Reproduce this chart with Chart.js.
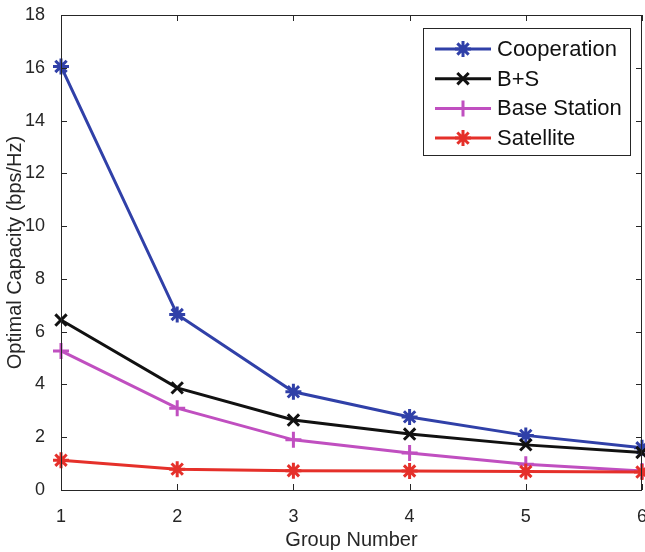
<!DOCTYPE html>
<html>
<head>
<meta charset="utf-8">
<script src="https://cdn.jsdelivr.net/npm/chart.js@4"></script>
<style>
  html, body { margin: 0; padding: 0; background: #fff; }
  #wrap { width: 645px; height: 552px; }
</style>
</head>
<body>
<div id="wrap"><canvas id="cap-chart" width="645" height="552"></canvas></div>
<script>
const groups = [1, 2, 3, 4, 5, 6];
const cooperation = [16.05, 6.65, 3.72, 2.77, 2.07, 1.6];
const bPlusS = [6.44, 3.87, 2.65, 2.12, 1.71, 1.42];
const baseStation = [5.27, 3.1, 1.9, 1.4, 0.98, 0.72];
const satellite = [1.13, 0.79, 0.73, 0.72, 0.7, 0.68];
const yTicks = [0, 2, 4, 6, 8, 10, 12, 14, 16, 18];

const FONT = 'Arial, "Liberation Sans", Helvetica, sans-serif';
const AXIS_COLOR = '#262626';

const SERIES = [
    { label: 'Cooperation', data: cooperation, color: '#3040a8', marker: 'star' },
    { label: 'B+S', data: bPlusS, color: '#111111', marker: 'crossRot' },
    { label: 'Base Station', data: baseStation, color: '#c04fc0', marker: 'cross' },
    { label: 'Satellite', data: satellite, color: '#e5302a', marker: 'star' }
];

// frame round the plot + inward ticks on all four sides
const matlabFrame = {
    id: 'matlabFrame',
    afterDraw(chart) {
        const { ctx, chartArea: a, scales } = chart;
        const len = 6;
        ctx.save();
        ctx.strokeStyle = AXIS_COLOR;
        ctx.lineWidth = 1;
        ctx.strokeRect(a.left + 0.5, a.top + 0.5, a.right - a.left - 1, a.bottom - a.top);
        ctx.beginPath();
        groups.forEach(g => {
            const x = Math.round(scales.x.getPixelForValue(g)) + 0.5;
            ctx.moveTo(x, a.bottom); ctx.lineTo(x, a.bottom - len);
            ctx.moveTo(x, a.top); ctx.lineTo(x, a.top + len);
        });
        yTicks.forEach(v => {
            const y = Math.round(scales.y.getPixelForValue(v)) + 0.5;
            ctx.moveTo(a.left, y); ctx.lineTo(a.left + len, y);
            ctx.moveTo(a.right, y); ctx.lineTo(a.right - len, y);
        });
        ctx.stroke();
        ctx.restore();
    }
};

// legend box with line + marker, like the figure
const boxLegend = {
    id: 'boxLegend',
    afterDraw(chart) {
        const ctx = chart.ctx;
        const box = { x: 423.5, y: 28.5, w: 207, h: 127 };
        ctx.save();
        ctx.fillStyle = '#fff';
        ctx.fillRect(box.x, box.y, box.w, box.h);
        ctx.strokeStyle = AXIS_COLOR;
        ctx.lineWidth = 1;
        ctx.strokeRect(box.x, box.y, box.w, box.h);
        ctx.font = '22px ' + FONT;
        ctx.textBaseline = 'middle';
        SERIES.forEach((s, i) => {
            const y = 49 + i * 29.7;
            ctx.strokeStyle = s.color;
            ctx.lineWidth = 3;
            ctx.beginPath();
            ctx.moveTo(435, y);
            ctx.lineTo(491, y);
            ctx.stroke();
            ctx.fillStyle = s.color;
            Chart.helpers.drawPoint(ctx, { pointStyle: s.marker, radius: 8, borderWidth: 3 }, 463, y);
            ctx.fillStyle = '#111';
            ctx.fillText(s.label, 497, y + 1);
        });
        ctx.restore();
    }
};

new Chart(document.getElementById('cap-chart'), {
    type: 'line',
    data: {
        labels: groups,
        datasets: SERIES.map((s, i) => ({
            label: s.label,
            data: s.data.map((v, k) => ({ x: groups[k], y: v })),
            borderColor: s.color,
            backgroundColor: s.color,
            borderWidth: 3,
            pointStyle: s.marker,
            pointRadius: 8,
            pointBorderWidth: 3,
            pointBorderColor: s.color,
            tension: 0,
            clip: false,
            order: SERIES.length - i
        }))
    },
    options: {
        responsive: false,
        animation: false,
        events: [],
        layout: { autoPadding: false, padding: { left: 0, right: 3, top: 15, bottom: 0 } },
        plugins: { legend: { display: false }, tooltip: { enabled: false } },
        scales: {
            x: {
                type: 'linear',
                min: 1, max: 6,
                afterFit(scale) { scale.height = 62; scale.paddingLeft = 0; scale.paddingRight = 0; },
                afterBuildTicks(scale) { scale.ticks = groups.map(v => ({ value: v })); },
                grid: { display: false },
                border: { display: false },
                ticks: { color: AXIS_COLOR, font: { size: 18, family: FONT }, padding: 8, maxRotation: 0 },
                title: { display: true, text: 'Group Number', color: AXIS_COLOR, font: { size: 20, family: FONT }, padding: { top: 0, bottom: 0 } }
            },
            y: {
                min: 0, max: 18,
                afterFit(scale) { scale.width = 61; scale.paddingTop = 0; scale.paddingBottom = 0; },
                afterBuildTicks(scale) { scale.ticks = yTicks.map(v => ({ value: v })); },
                grid: { display: false },
                border: { display: false },
                ticks: { color: AXIS_COLOR, font: { size: 18, family: FONT }, padding: 8 },
                title: { display: true, text: 'Optimal Capacity (bps/Hz)', color: AXIS_COLOR, font: { size: 20, family: FONT }, padding: { top: 3, bottom: 0 } }
            }
        }
    },
    plugins: [matlabFrame, boxLegend]
});
</script>
</body>
</html>
